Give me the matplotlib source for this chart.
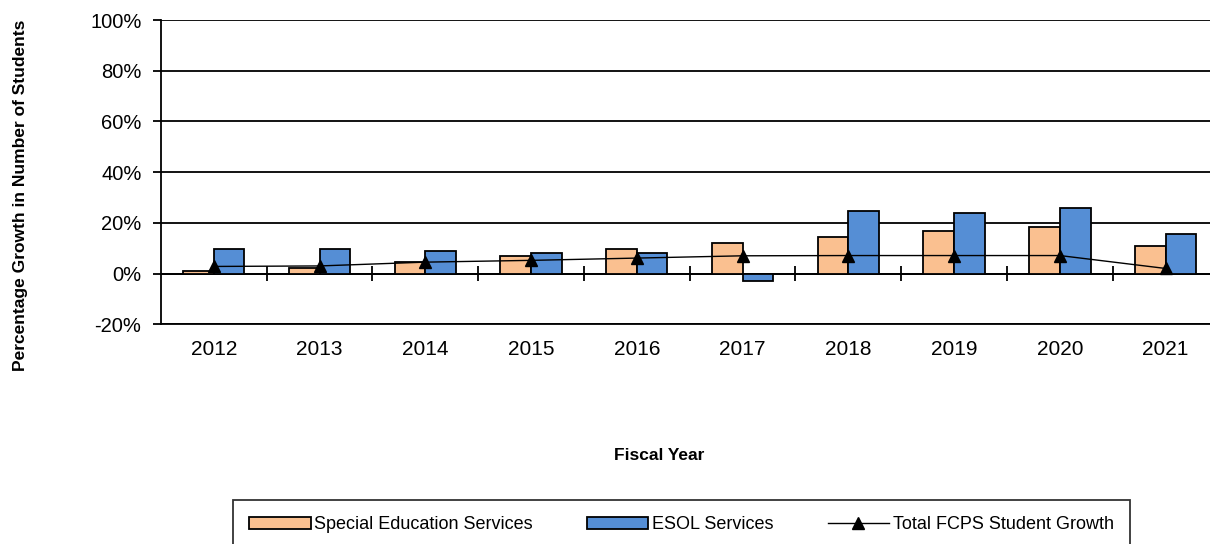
import matplotlib.pyplot as plt
import numpy as np

plt.rcParams['font.family'] = ['Liberation Sans', 'DejaVu Sans']

years = ['2012', '2013', '2014', '2015', '2016', '2017', '2018', '2019', '2020', '2021']
special_ed = [1.0, 2.0, 4.7, 7.0, 9.5, 12.0, 14.3, 16.6, 18.2, 11.0]
esol = [9.5, 9.5, 8.7, 8.0, 8.0, -3.0, 24.5, 23.7, 26.0, 15.8]
total_growth = [2.8, 3.0, 4.5, 5.2, 6.1, 7.0, 7.1, 7.1, 7.1, 2.0]
y_ticks = [-20, 0, 20, 40, 60, 80, 100]

fig = plt.figure(figsize=(12.1, 5.44), dpi=100)
ax = fig.add_axes([0.133, 0.404, 0.874, 0.559])

x = np.arange(len(years))
w = 0.29

b1 = ax.bar(x - w / 2, special_ed, width=w, color='#FAC090', edgecolor='black',
            linewidth=1.3, zorder=3, label='Special Education Services')
b2 = ax.bar(x + w / 2, esol, width=w, color='#558ED5', edgecolor='black',
            linewidth=1.3, zorder=3, label='ESOL Services')
l1, = ax.plot(x, total_growth, color='black', linewidth=1.0, marker='^',
              markersize=9, zorder=5, label='Total FCPS Student Growth')

# category axis crossing at 0 with divider ticks
ax.axhline(0, color='black', linewidth=1.3, zorder=2)
ax.vlines(x[:-1] + 0.5, -3, 3, color='black', linewidth=1.3, zorder=2)

ax.set_xlim(-0.5, len(years) - 0.5)
ax.set_ylim(-20, 100)
ax.set_yticks(y_ticks)
ax.set_yticklabels(['%d%%' % v for v in y_ticks], fontsize=14.5)
ax.set_xticks(x)
ax.set_xticklabels(years, fontsize=15)
ax.tick_params(axis='x', length=0, pad=11)
ax.tick_params(axis='y', length=6, width=1.3, pad=8)

ax.yaxis.grid(True, color='black', linewidth=1.3, zorder=0)
ax.set_axisbelow(True)
for side in ['top', 'right']:
    ax.spines[side].set_visible(False)
ax.spines['left'].set_linewidth(1.3)
ax.spines['bottom'].set_linewidth(1.3)

fig.text(0.017, 1 - 195 / 544, 'Percentage Growth in Number of Students',
         rotation=90, ha='center', va='center', fontsize=12.5, fontweight='bold')
fig.text(659 / 1210, 1 - 455 / 544, 'Fiscal Year', ha='center', va='center',
         fontsize=12.5, fontweight='bold')

leg = fig.legend([b1, b2, l1], [b1.get_label(), b2.get_label(), l1.get_label()],
                 loc='upper left', bbox_to_anchor=(233 / 1210, 1 - 500 / 544),
                 ncol=3, fontsize=13, frameon=True, fancybox=False,
                 edgecolor='black', handlelength=3.4, handleheight=0.6,
                 handletextpad=0.2, columnspacing=3.0, borderpad=0.9,
                 borderaxespad=0)
leg.get_frame().set_linewidth(1.3)

plt.savefig('out.png', dpi=100)
plt.close(fig)
